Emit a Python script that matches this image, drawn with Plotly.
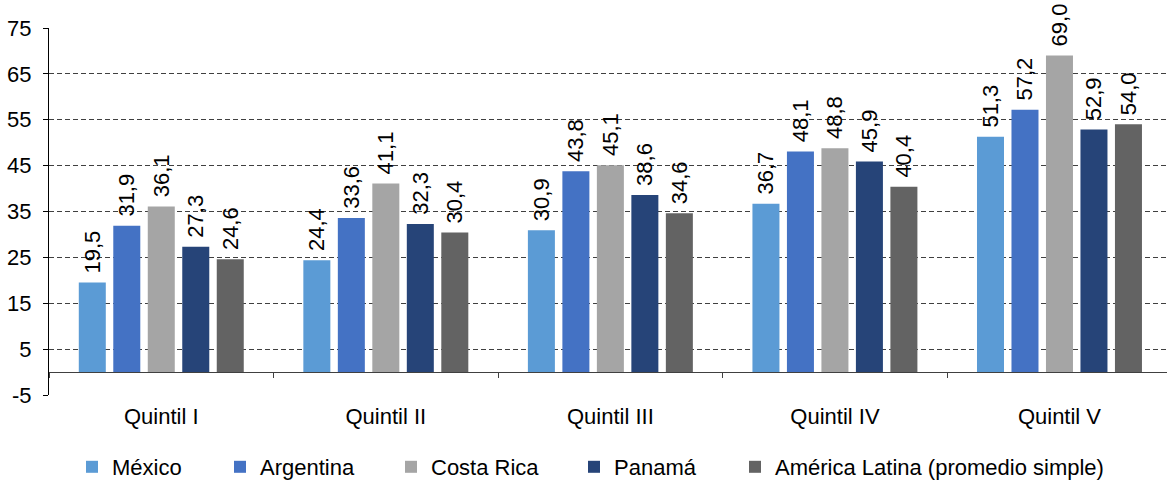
import plotly.graph_objects as go

categories = ["Quintil I", "Quintil II", "Quintil III", "Quintil IV", "Quintil V"]
series_names = ["México", "Argentina", "Costa Rica", "Panamá", "América Latina (promedio simple)"]
mexico = [19.5, 24.4, 30.9, 36.7, 51.3]
argentina = [31.9, 33.6, 43.8, 48.1, 57.2]
costa_rica = [36.1, 41.1, 45.1, 48.8, 69.0]
panama = [27.3, 32.3, 38.6, 45.9, 52.9]
america_latina = [24.6, 30.4, 34.6, 40.4, 54.0]
y_ticks = [-5, 5, 15, 25, 35, 45, 55, 65, 75]
y_tick_labels = ["-5", "5", "15", "25", "35", "45", "55", "65", "75"]

values = [mexico, argentina, costa_rica, panama, america_latina]
colors = ["#5B9BD5", "#4472C4", "#A5A5A5", "#264478", "#636363"]
legend_ids = ["legend", "legend2", "legend3", "legend4", "legend5"]
legend_x_px = [72, 220, 391, 574, 735]

FONT = "Arial, 'Liberation Sans', sans-serif"
FS = 22
W, H = 1167, 481

fig = go.Figure()
for name, vals, col, lid in zip(series_names, values, colors, legend_ids):
    fig.add_trace(go.Bar(
        x=categories, y=vals, name=name,
        marker=dict(color=col, line=dict(width=0)),
        text=[f"{v:.1f}".replace(".", ",") for v in vals],
        texttemplate="\u00a0%{text}",
        textposition="outside", textangle=-90,
        textfont=dict(family=FONT, size=FS, color="#000000"),
        constraintext="none", cliponaxis=False,
        legend=lid,
    ))

legend_common = dict(
    orientation="h", xref="container", yref="container",
    xanchor="left", yanchor="middle", y=1 - 467 / H,
    font=dict(family=FONT, size=FS, color="#000000"),
    bgcolor="rgba(0,0,0,0)", borderwidth=0,
)
layout_legends = {}
for lid, px in zip(legend_ids, legend_x_px):
    layout_legends[lid] = dict(legend_common, x=px / W)

x_right = 4.5 - (1171.75 - W) / 224.5

fig.update_layout(
    width=W, height=H,
    margin=dict(l=49, r=0, t=28, b=86, pad=0, autoexpand=False),
    paper_bgcolor="white", plot_bgcolor="white",
    barmode="group", bargap=0.232, bargroupgap=0.217,
    separators=",.",
    font=dict(family=FONT, size=FS, color="#000000"),
    showlegend=True,
    yaxis=dict(
        range=[-5, 75], tickmode="array", tickvals=y_ticks, ticktext=y_tick_labels,
        showgrid=True, gridcolor="#404040", gridwidth=1, griddash="5px,3px",
        zeroline=True, zerolinecolor="#404040", zerolinewidth=1,
        showline=True, linecolor="#000000", linewidth=1,
        ticks="outside", ticklen=5, tickcolor="#000000",
        tickfont=dict(family=FONT, size=FS, color="#000000"),
        ticklabelstandoff=7, automargin=False,
    ),
    xaxis=dict(
        range=[-0.5, x_right], anchor="free", position=5 / 80,
        showline=False, showgrid=False, zeroline=False,
        ticks="outside", tickson="boundaries", ticklen=5, tickcolor="#404040",
        tickfont=dict(family=FONT, size=FS, color="#000000"),
        ticklabelstandoff=29, automargin=False,
    ),
    **layout_legends,
)

fig.write_html("out.html", config={"displayModeBar": False},
               post_script="document.body.style.margin='0';")
